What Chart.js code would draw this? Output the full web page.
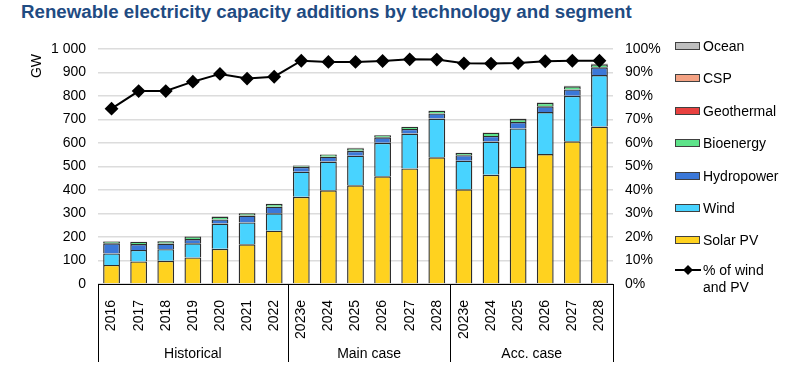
<!DOCTYPE html>
<html>
<head>
<meta charset="utf-8">
<script src="https://cdn.jsdelivr.net/npm/chart.js@4.4.0/dist/chart.umd.min.js"></script>
<style>
  html,body{margin:0;padding:0;background:#fff;}
  #wrap{position:relative;width:800px;height:378px;overflow:hidden;font-family:"Liberation Sans",Arial,sans-serif;}
  #title{position:absolute;left:21px;top:1px;font-size:18.7px;font-weight:bold;color:#1f4b82;white-space:nowrap;}
  canvas{position:absolute;left:0;top:0;}
  #legend{position:absolute;left:675px;top:38px;font-size:14px;color:#000;}
  .li{position:absolute;left:0;white-space:nowrap;height:16px;line-height:16px;}
  .sw{position:absolute;left:0;top:4px;width:23px;height:6px;border:1px solid #404040;}
  .lt{position:absolute;left:28px;top:0;}
</style>
</head>
<body>
<div id="wrap">
  <div id="title">Renewable electricity capacity additions by technology and segment</div>
  <canvas id="c" width="800" height="378"></canvas>
  <div id="legend"></div>
</div>
<script>
const categories = ["2016","2017","2018","2019","2020","2021","2022",
  "2023e","2024","2025","2026","2027","2028",
  "2023e","2024","2025","2026","2027","2028"];
const groups = [
  {label:"Historical", start:0, end:6},
  {label:"Main case", start:7, end:12},
  {label:"Acc. case", start:13, end:18}
];
const solarPV   = [81, 96, 99, 113, 150, 169, 227, 371, 399, 420, 458, 492, 539, 403, 465, 498, 553, 607, 670];
const wind      = [49, 49, 49, 60, 107, 93, 74, 107, 122, 126, 143, 148, 165, 122, 141, 164, 179, 194, 219];
const hydropower= [43, 25, 24, 18, 18, 29, 28, 21, 21, 21, 23, 20, 22, 23, 24, 27, 24, 27, 33];
const bioenergy = [8, 9, 10, 11, 12, 10, 12, 5, 9, 11, 9, 8, 11, 9, 14, 13, 15, 13, 13];
const geothermal= [1, 0.5, 0.5, 0.5, 0.5, 0.5, 0.5, 0.5, 0.5, 1, 1, 1, 1, 1, 1, 1, 1, 1.5, 1.5];
const csp       = [0.5, 0.3, 0.5, 0.5, 0.2, 0.2, 0.2, 0.3, 0.3, 0.5, 0.5, 0.5, 0.5, 0.5, 1, 1, 1, 1, 1];
const ocean     = [0, 0, 0, 0, 0, 0, 0, 0, 0, 0, 0, 0, 0, 0, 0, 0, 0, 0, 0.5];
const shareWindPV = [74.6, 82.1, 82.1, 86.1, 89.4, 87.4, 88.2, 95.0, 94.5, 94.5, 94.9, 95.6, 95.5, 93.9, 93.8, 94.0, 94.8, 95.0, 95.0];
const leftTicks = ["0","100","200","300","400","500","600","700","800","900","1 000"];

const series = [
  {label:"Solar PV", data:solarPV, color:"#ffd21f"},
  {label:"Wind", data:wind, color:"#48d3ff"},
  {label:"Hydropower", data:hydropower, color:"#3b78d8"},
  {label:"Bioenergy", data:bioenergy, color:"#5ee38a"},
  {label:"Geothermal", data:geothermal, color:"#e8413f"},
  {label:"CSP", data:csp, color:"#f4a283"},
  {label:"Ocean", data:ocean, color:"#bfbfbf"}
];

const FONT = '"Liberation Sans", Arial, sans-serif';
const datasets = series.map(s => ({
  type:'bar', label:s.label, data:s.data, backgroundColor:s.color,
  borderColor:'#2e2e2e', borderWidth:1.4, stack:'s', yAxisID:'y',
  barPercentage:0.62, categoryPercentage:1.0, order:2
}));
datasets.push({
  type:'line', label:'% of wind and PV', data:shareWindPV, yAxisID:'y1',
  borderColor:'#000', backgroundColor:'#000', borderWidth:2,
  pointStyle:'rectRot', pointRadius:5.5, pointHoverRadius:5.5, tension:0, order:1
});

const groupPlugin = {
  id:'groups',
  afterDraw(chart){
    const ctx = chart.ctx, x = chart.scales.x, ca = chart.chartArea;
    const bottom = 362;
    ctx.save();
    ctx.strokeStyle = '#000'; ctx.lineWidth = 1;
    const step = x.getPixelForValue(1) - x.getPixelForValue(0);
    const edges = [ca.left];
    groups.forEach(g => edges.push(x.getPixelForValue(g.end) + step/2));
    edges.forEach(px => {
      const xx = Math.round(px)+0.5;
      ctx.beginPath(); ctx.moveTo(xx, ca.bottom); ctx.lineTo(xx, bottom); ctx.stroke();
    });
    ctx.fillStyle = '#000';
    ctx.font = '14px ' + FONT;
    ctx.textAlign = 'center'; ctx.textBaseline = 'middle';
    groups.forEach(g => {
      const cx = (x.getPixelForValue(g.start) + x.getPixelForValue(g.end))/2;
      ctx.fillText(g.label, cx, 354);
    });
    ctx.save();
    ctx.translate(37, 66);
    ctx.rotate(-Math.PI/2);
    ctx.textAlign = 'center'; ctx.textBaseline = 'middle';
    ctx.fillText('GW', 0, 0);
    ctx.restore();
    ctx.restore();
  }
};

new Chart(document.getElementById('c'), {
  data:{labels:categories, datasets},
  options:{
    responsive:false, animation:false,
    layout:{padding:{left:0, right:135, top:49, bottom:0}},
    plugins:{legend:{display:false}, tooltip:{enabled:false}, title:{display:false}},
    scales:{
      x:{
        stacked:true, offset:true,
        grid:{display:false},
        border:{display:true, color:'#000', width:1},
        ticks:{color:'#000', font:{size:14, family:FONT},
          maxRotation:90, minRotation:90, padding:8, autoSkip:false},
        afterFit(s){ s.height = 94; }
      },
      y:{
        stacked:true, min:0, max:1000,
        grid:{color:'#dcdcdc', lineWidth:1.5, drawTicks:false},
        border:{display:false},
        ticks:{stepSize:100, color:'#000', padding:12,
          font:{size:14, family:FONT},
          callback:(v,i)=>leftTicks[i]},
        afterFit(s){ s.width = 98; }
      },
      y1:{
        position:'right', min:0, max:100,
        grid:{display:false, drawTicks:false},
        border:{display:false},
        ticks:{stepSize:10, color:'#000', padding:12,
          font:{size:14, family:FONT},
          callback:v=>v+'%'},
        afterFit(s){ s.width = 52; }
      }
    }
  },
  plugins:[groupPlugin]
});

const leg = document.getElementById('legend');
const legendItems = series.slice().reverse();
legendItems.forEach((s,i) => {
  const d = document.createElement('div');
  d.className='li'; d.style.top=(i*32.4)+'px';
  d.innerHTML = '<div class="sw" style="background:'+s.color+'"></div><div class="lt">'+s.label+'</div>';
  leg.appendChild(d);
});
const ld = document.createElement('div');
ld.className='li'; ld.style.top=(7*32.4 - 3)+'px'; ld.style.height='34px';
ld.innerHTML = '<svg style="position:absolute;left:0;top:2px" width="26" height="12"><line x1="0" y1="6" x2="26" y2="6" stroke="#000" stroke-width="2"/><polygon points="13,1 18,6 13,11 8,6" fill="#000"/></svg><div class="lt" style="line-height:17px">% of wind<br>and PV</div>';
leg.appendChild(ld);
</script>
</body>
</html>
